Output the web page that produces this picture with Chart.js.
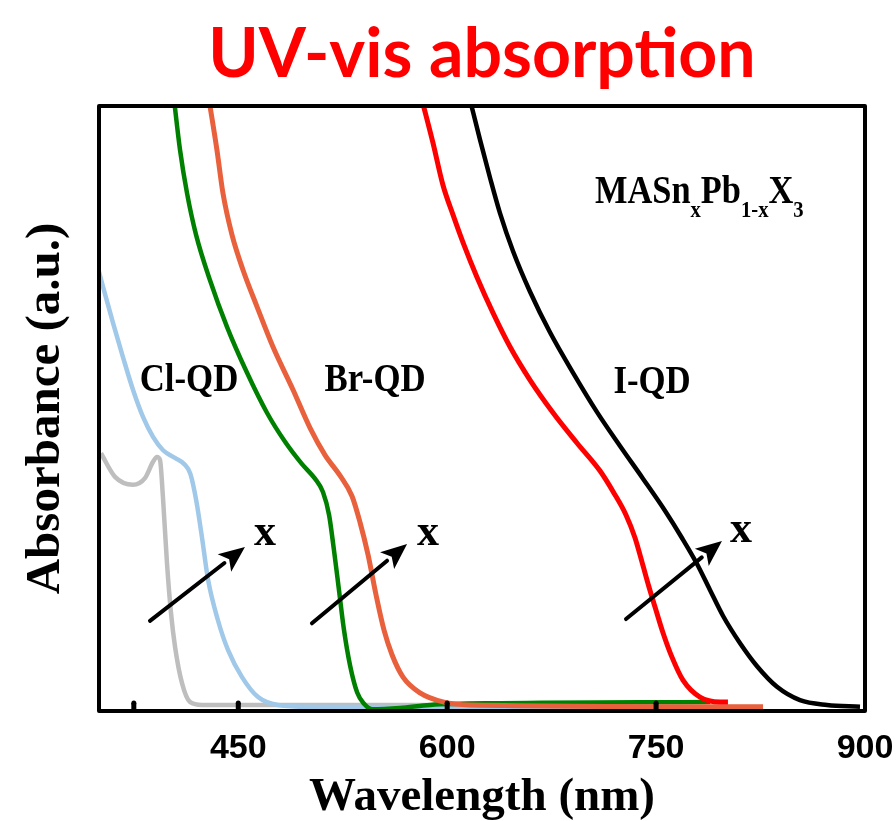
<!DOCTYPE html>
<html>
<head>
<meta charset="utf-8">
<script src="https://cdn.jsdelivr.net/npm/chart.js@4.4.0/dist/chart.umd.min.js"></script>
<style>
  html, body { margin: 0; padding: 0; background: #fff; }
  #wrap { width: 896px; height: 821px; }
</style>
</head>
<body>
<div id="wrap"><canvas id="uvChart"></canvas></div>
<script>
// axis ticks
const xTicks = [450, 600, 750, 900];
const tickDots = [375, 450, 600, 750];

// spectra (wavelength nm / absorbance a.u.)
const grayNm  = [351.4, 361.5, 374.4, 383.0, 388.8, 391.6, 393.8, 395.9, 398.8, 401.7, 404.6, 409.6, 415.3, 424.0, 458, 600];
const grayAbs = [42.6, 38.7, 37.4, 38.5, 41.2, 42.0, 41.5, 35.4, 24.5, 16.2, 10.6, 4.6, 1.5, 1.0, 1.0, 1.0];

const blueNm  = [350, 352.9, 360.1, 367.2, 374.4, 381.6, 388.8, 396.0, 404.8, 411.3, 415.6, 419.9, 424.0, 428.3, 435.4, 442.6, 452.7, 464.2, 478.5, 502.9, 650, 820];
const blueAbs = [72.6, 70.1, 64.1, 58.5, 53.1, 48.6, 45.3, 43.1, 41.8, 40.8, 39.2, 34.7, 28.6, 21.7, 15.0, 10.1, 5.6, 2.3, 1.0, 0.7, 0.6, 0.6];

const greenNm  = [403.9, 408.2, 413.2, 419.7, 429.7, 441.9, 456.3, 470.6, 483.6, 495.8, 505.1, 510.8, 515.2, 518.7, 522.3, 525.9, 530.2, 535.3, 540.3, 546.0, 566.1, 587.7, 637.9, 788.7];
const greenAbs = [101, 92.7, 85.6, 78.7, 71.2, 63.5, 55.9, 49.3, 44.5, 40.8, 38.4, 36.2, 32.4, 26.6, 20.0, 13.4, 7.6, 3.1, 1.2, 0.3, 0.5, 1.0, 1.3, 1.5];

const orangeNm  = [429.0, 434.7, 439.0, 445.5, 453.4, 463.5, 474.9, 489.3, 501.5, 512.3, 523.1, 531.7, 537.4, 543.2, 548.9, 554.6, 560.4, 568.3, 580.5, 597.0, 616.4, 826.8];
const orangeAbs = [101, 92.7, 85.6, 78.7, 72.9, 66.8, 60.2, 53.1, 46.8, 42.3, 38.9, 35.5, 31.2, 25.8, 19.2, 13.4, 9.3, 5.6, 3.0, 1.5, 1.0, 0.7];

const redNm  = [581.9, 589.8, 597.0, 604.2, 612.1, 621.4, 632.9, 645.1, 659.5, 676.0, 693.2, 709.7, 719.8, 728.4, 734.9, 739.9, 744.9, 749.9, 755.0, 761.4, 769.3, 781.5, 795.9, 801.6];
const redAbs = [101, 93.9, 86.9, 82.0, 77.0, 71.7, 65.8, 60.2, 54.7, 49.3, 44.3, 39.7, 36.0, 32.4, 28.6, 24.6, 20.5, 16.7, 12.9, 8.9, 5.1, 2.3, 1.5, 1.5];

const blackNm  = [616.4, 623.6, 630.8, 637.9, 647.3, 659.5, 673.8, 690.4, 707.6, 724.1, 740.6, 756.4, 768.6, 779.4, 788.7, 798.1, 810.3, 822.5, 836.8, 853.3, 872.7, 896.4];
const blackAbs = [101, 94.4, 88.1, 82.3, 76.0, 69.3, 62.6, 55.9, 49.4, 43.8, 38.4, 33.1, 28.6, 24.3, 20.0, 15.7, 11.2, 7.4, 4.0, 1.8, 1.0, 0.7];

// annotations (data coordinates)
const qdLabels = ['Cl-QD', 'Br-QD', 'I-QD'];
const qdNm  = [414.6, 548.2, 747.1];
const qdAbs = [52.9, 52.9, 52.6];

const arrowTailNm  = [386.6, 502.9, 728.4];
const arrowTailAbs = [14.9, 14.5, 15.2];
const arrowTipNm   = [454.8, 571.2, 797.3];
const arrowTipAbs  = [27.1, 27.6, 28.1];
const xMarkNm  = [469.2, 586.2, 811.0];
const xMarkAbs = [27.4, 27.4, 27.9];

const formulaParts = [['MASn', 0], ['x', 1], ['Pb', 0], ['1-x', 1], ['X', 0], ['3', 1]];
const formulaNm = 706.1;
const formulaAbs = 84.0;

const pts = (xs, ys) => xs.map((v, i) => ({ x: v, y: ys[i] }));

const serif = '"Liberation Serif", "Times New Roman", serif';

function condensedText(ctx, str, px, py, size, sx, align) {
  ctx.save();
  ctx.translate(px, py);
  ctx.scale(sx, 1);
  ctx.font = `bold ${size}px ${serif}`;
  ctx.textAlign = align;
  ctx.textBaseline = 'alphabetic';
  ctx.fillText(str, 0, 0);
  ctx.restore();
}

const overlay = {
  id: 'overlay',
  afterDatasetsDraw(chart) {
    const { ctx, chartArea: a, scales: { x, y } } = chart;
    ctx.save();
    ctx.fillStyle = '#000';
    ctx.strokeStyle = '#000';

    // inward tick dots on the bottom axis
    tickDots.forEach(v => {
      const px = x.getPixelForValue(v);
      ctx.beginPath();
      ctx.arc(px, a.bottom - 8, 2.5, 0, Math.PI * 2);
      ctx.fill();
      ctx.fillRect(px - 2.5, a.bottom - 8, 5, 8);
    });

    // frame
    ctx.lineWidth = 4;
    ctx.lineJoin = 'round';
    ctx.strokeRect(a.left, a.top, a.right - a.left, a.bottom - a.top);

    // arrows
    arrowTailNm.forEach((v, i) => {
      const x0 = x.getPixelForValue(v), y0 = y.getPixelForValue(arrowTailAbs[i]);
      const x1 = x.getPixelForValue(arrowTipNm[i]), y1 = y.getPixelForValue(arrowTipAbs[i]);
      const ang = Math.atan2(y1 - y0, x1 - x0);
      const hl = 26, hw = 11;
      const bx = x1 - hl * Math.cos(ang), by = y1 - hl * Math.sin(ang);
      ctx.lineWidth = 4;
      ctx.lineCap = 'round';
      ctx.beginPath();
      ctx.moveTo(x0, y0);
      ctx.lineTo(bx, by);
      ctx.stroke();
      ctx.beginPath();
      ctx.moveTo(x1, y1);
      ctx.lineTo(bx + hw * Math.sin(ang), by - hw * Math.cos(ang));
      ctx.lineTo(bx + 6 * Math.cos(ang), by + 6 * Math.sin(ang));
      ctx.lineTo(bx - hw * Math.sin(ang), by + hw * Math.cos(ang));
      ctx.closePath();
      ctx.fill();
    });

    // x markers next to arrows
    xMarkNm.forEach((v, i) => {
      condensedText(ctx, 'x', x.getPixelForValue(v), y.getPixelForValue(xMarkAbs[i]), 44, 1, 'center');
    });

    // QD labels
    qdLabels.forEach((t, i) => {
      condensedText(ctx, t, x.getPixelForValue(qdNm[i]), y.getPixelForValue(qdAbs[i]), 40, 0.87, 'center');
    });

    // formula with subscripts
    let fx = x.getPixelForValue(formulaNm);
    const fy = y.getPixelForValue(formulaAbs);
    formulaParts.forEach(([t, sub]) => {
      const size = sub ? 24 : 40;
      const sx = 0.86;
      ctx.font = `bold ${size}px ${serif}`;
      const w = ctx.measureText(t).width * sx;
      condensedText(ctx, t, fx, fy + (sub ? 14 : 0), size, sx, 'left');
      fx += w;
    });

    ctx.restore();
  }
};

const ctx = document.getElementById('uvChart').getContext('2d');
new Chart(ctx, {
  type: 'line',
  data: {
    datasets: [
      { data: pts(blackNm, blackAbs),   borderColor: '#000000', borderWidth: 4.5 },
      { data: pts(redNm, redAbs),       borderColor: '#ff0000', borderWidth: 5 },
      { data: pts(orangeNm, orangeAbs), borderColor: '#e8603c', borderWidth: 5 },
      { data: pts(greenNm, greenAbs),   borderColor: '#008000', borderWidth: 4.5 },
      { data: pts(blueNm, blueAbs),     borderColor: '#a0c8e8', borderWidth: 4.5 },
      { data: pts(grayNm, grayAbs),     borderColor: '#bebebe', borderWidth: 4.5 }
    ]
  },
  options: {
    responsive: true,
    maintainAspectRatio: false,
    animation: false,
    layout: { padding: { left: 0, right: 31, top: 0, bottom: 0 } },
    elements: {
      point: { radius: 0 },
      line: { cubicInterpolationMode: 'monotone', fill: false, borderCapStyle: 'butt' }
    },
    scales: {
      x: {
        type: 'linear',
        min: 350,
        max: 900,
        afterBuildTicks: s => { s.ticks = xTicks.map(v => ({ value: v })); },
        afterFit: s => { s.height = 110; s.paddingLeft = 0; s.paddingRight = 0; },
        grid: { display: false, drawTicks: false },
        border: { display: false },
        ticks: {
          color: '#000',
          padding: 17,
          font: { family: '"Liberation Sans", Arial, sans-serif', weight: 'bold', size: 34 }
        },
        title: {
          display: true,
          text: 'Wavelength (nm)',
          color: '#000',
          padding: { top: 0, bottom: 0 },
          font: { family: serif, weight: 'bold', size: 47, lineHeight: 1 }
        }
      },
      y: {
        min: 0,
        max: 100,
        afterFit: s => { s.width = 99; },
        grid: { display: false, drawTicks: false },
        border: { display: false },
        ticks: { display: false },
        title: {
          display: true,
          text: 'Absorbance (a.u.)',
          color: '#000',
          padding: { top: 22, bottom: 0 },
          font: { family: serif, weight: 'bold', size: 49, lineHeight: 1 }
        }
      }
    },
    plugins: {
      legend: { display: false },
      tooltip: { enabled: false },
      title: {
        display: true,
        text: 'UV-vis absorption',
        color: '#ff0000',
        fullSize: false,
        padding: { top: 21, bottom: 17 },
        font: { family: 'Lato, "Open Sans", sans-serif', weight: 'bold', size: 68, lineHeight: 1 }
      }
    }
  },
  plugins: [overlay]
});
</script>
</body>
</html>
